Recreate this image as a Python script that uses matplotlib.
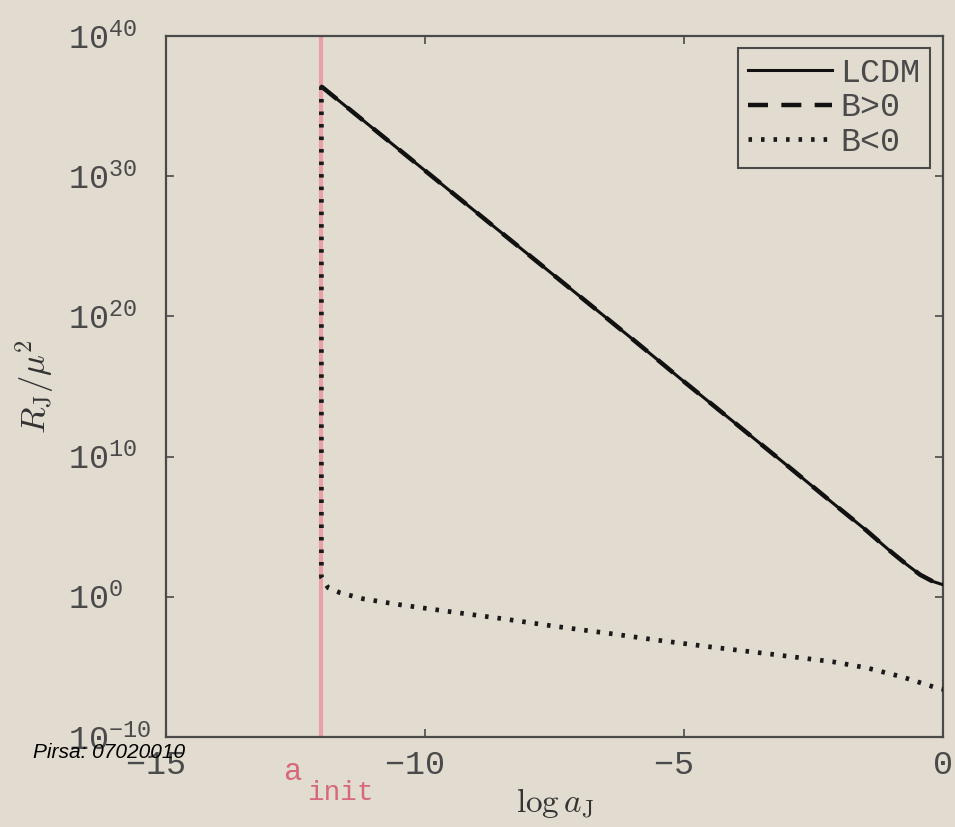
import numpy as np
import matplotlib
matplotlib.use("Agg")
import matplotlib.pyplot as plt
from matplotlib.transforms import blended_transform_factory

# ---- data ----
a_init = -12.0
lcdm_x = [-12.0, -11.0, -10.0, -9.0, -8.0, -7.0, -6.0, -5.0, -4.0, -3.0, -2.0,
          -1.5, -1.22, -1.0, -0.7, -0.44, -0.2, 0.0]
lcdm_exp = [36.4, 33.4, 30.4, 27.4, 24.4, 21.4, 18.4, 15.35, 12.35, 9.34, 6.3,
            4.8, 3.9, 3.2, 2.3, 1.57, 1.1, 0.86]
bpos_x = lcdm_x
bpos_exp = lcdm_exp
bneg_x = [-12.0, -12.0, -11.87, -11.64, -11.2, -10.48, -9.5, -8.49, -7.5, -6.39,
          -5.5, -4.5, -3.3, -2.12, -1.47, -0.8, -0.12, 0.0]
bneg_exp = [36.4, 1.4, 0.64, 0.29, -0.14, -0.57, -1.07, -1.57, -2.1, -2.64,
            -3.1, -3.57, -4.1, -4.64, -5.07, -5.7, -6.5, -6.6]
series_labels = ["LCDM", "B>0", "B<0"]
xticks = [-15, -10, -5, 0]
xticklabels = ["\u221215 ", "\u221210 ", "\u22125 ", "0"]
yexp_ticks = [-10, 0, 10, 20, 30, 40]

BG = "#e2dcd0"
GRAY = "#4a4a4a"

plt.rcParams['font.family'] = ['Liberation Mono', 'DejaVu Sans']
plt.rcParams['mathtext.fontset'] = 'cm'

fig = plt.figure(figsize=(9.55, 8.27), dpi=100, facecolor=BG)
ax = fig.add_axes([166/955, 1-737/827, (943-166)/955, (737-36)/827])
ax.set_facecolor(BG)

ax.axvline(a_init, color="#e9a0a9", lw=3.0, zorder=1)

lx = np.array(lcdm_x)
ax.plot(lx, 10.0**np.array(lcdm_exp), color="#111111", lw=2.2, ls='-',
        label=series_labels[0], zorder=3)
ax.plot(np.array(bpos_x), 10.0**np.array(bpos_exp), color="#111111", lw=3.2,
        ls=(0, (4.5, 3.0)), label=series_labels[1], zorder=4)
ax.plot(np.array(bneg_x), 10.0**np.array(bneg_exp), color="#1a1a1a", lw=3.4,
        ls=(0, (0.75, 1.9)), label=series_labels[2], zorder=4)

ax.set_yscale('log')
ax.set_xlim(-15, 0)
ax.set_ylim(1e-10, 1e40)
ax.set_xticks(xticks)
ax.set_xticklabels(xticklabels)
ax.set_yticks([10.0**e for e in yexp_ticks])
ax.set_yticklabels([r"$\mathregular{10^{%s}}$" % (("-%d" % -e) if e < 0 else str(e)) for e in yexp_ticks])
ax.minorticks_off()

ax.tick_params(axis='both', which='major', direction='in', length=6, width=1.2,
               color=GRAY, labelcolor=GRAY, labelsize=24, top=True, right=True)
ax.tick_params(axis='x', pad=9)
ax.tick_params(axis='y', pad=70.5)
for lab in ax.get_yticklabels():
    lab.set_horizontalalignment('left')
for sp in ax.spines.values():
    sp.set_color(GRAY)
    sp.set_linewidth(1.6)

ax.set_xlabel(r"$\log a_{\rm J}$", fontsize=24, color="#333333", labelpad=4,
              math_fontfamily='cm')
ax.set_ylabel(r"$R_{\rm J}/\mu^2$", fontsize=25, color="#333333",
              math_fontfamily='cm')
ax.yaxis.set_label_coords(-0.141, 0.5)

leg = ax.legend(loc='upper right', bbox_to_anchor=(1 - 13/777, 1 - 12/701),
                borderaxespad=0, fontsize=24, frameon=True, fancybox=False,
                facecolor=BG, edgecolor=GRAY, framealpha=1, handlelength=2.5,
                handletextpad=0.25, labelspacing=0.1, borderpad=0.3)
leg.get_frame().set_linewidth(1.5)
for t in leg.get_texts():
    t.set_color(GRAY)

trans = blended_transform_factory(ax.transData, ax.transAxes)
ax.text(-12.74, -0.0613, "a", transform=trans, color="#d66a7c", fontsize=22,
        ha='left', va='baseline')
ax.text(-12.28, -0.0899, "init", transform=trans, color="#d66a7c", fontsize=20,
        ha='left', va='baseline')

fig.text(33/955, 1 - 758/827, "Pirsa: 07020010", fontsize=15, style='italic',
         family='Liberation Sans', color='black', ha='left', va='baseline')

fig.savefig("out.png", dpi=100, facecolor=BG)
